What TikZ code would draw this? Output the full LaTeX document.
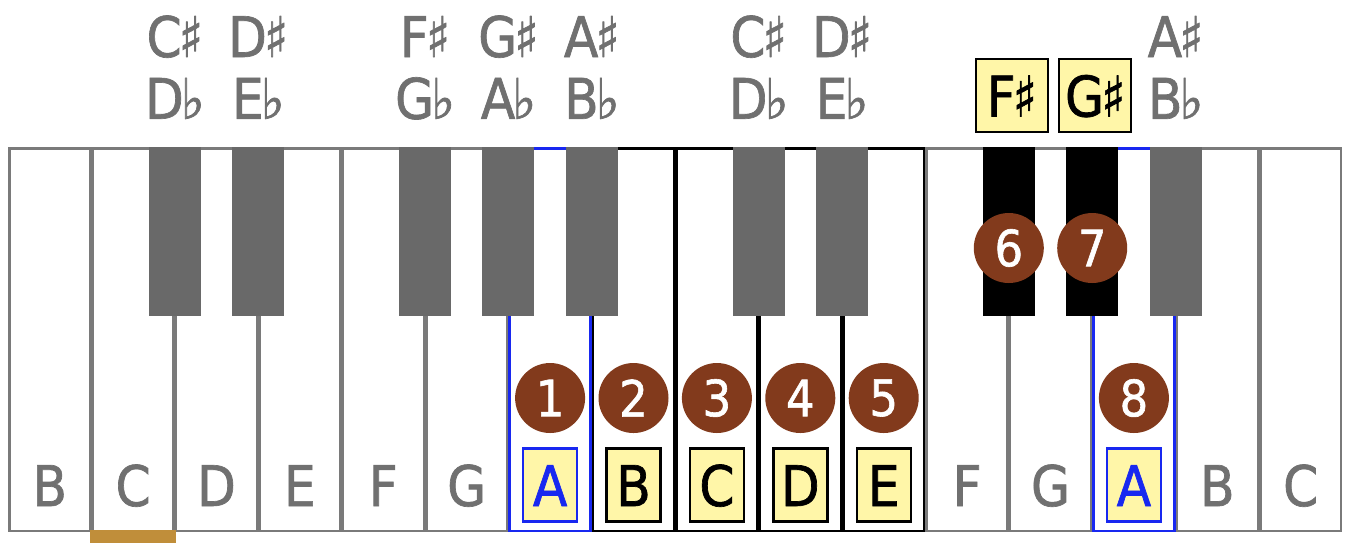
\documentclass[tikz,border=0pt]{standalone}
\usepackage{fontspec}
\setsansfont{DejaVu Sans Condensed}[FakeBold=1.2]
\usetikzlibrary{positioning}

\definecolor{keygrey}{RGB}{105,105,105}
\definecolor{linegrey}{RGB}{122,122,122}
\definecolor{namegrey}{RGB}{112,112,112}
\definecolor{fingerbrown}{RGB}{130,58,28}
\definecolor{noteyellow}{RGB}{255,246,168}
\definecolor{tonicblue}{RGB}{24,40,240}
\definecolor{tonicgold}{RGB}{192,142,58}

\begin{document}
\begin{tikzpicture}[x=0.5pt, y=-0.5pt,
  font=\sffamily\fontsize{28}{30}\selectfont,
  whitekey/.style={fill=white, line width=1.25pt, inner sep=0pt,
    minimum width=40.45pt, minimum height=191.25pt},
  key off/.style={whitekey, draw=linegrey},
  key scale/.style={whitekey, draw=black},
  key tonic/.style={whitekey, draw=tonicblue},
  blackkey/.style={fill=keygrey, inner sep=0pt,
    minimum width=26pt, minimum height=84.5pt},
  letter/.style={inner sep=0pt, text height=21pt, text depth=0pt},
  letterbox/.style={letter, fill=noteyellow, line width=1.2pt,
    minimum width=27pt, minimum height=36.5pt},
  keyname off/.style={letter, text=namegrey},
  keyname scale/.style={letterbox, draw=black, text=black},
  keyname tonic/.style={letterbox, draw=tonicblue, text=tonicblue},
  pitch/.style={letter, text=namegrey},
  pitchbox/.style={letterbox, draw=black, text=black, minimum width=36pt},
  finger/.style={circle, fill=fingerbrown, text=white, inner sep=0pt,
    minimum size=35pt, font=\sffamily\fontsize{25}{25}\selectfont},
  tonicbar/.style={fill=tonicgold, inner sep=0pt,
    minimum width=43pt, minimum height=6.5pt}
]
  \useasboundingbox (0,0) rectangle (1364,548);

  % white keys
  \foreach \note/\kind [count=\i from 0] in {B/off,C/off,D/off,E/off,F/off,G/off,A/tonic,B/scale,C/scale,D/scale,E/scale,F/off,G/off,A/tonic,B/off,C/off} {
    \node[key \kind] (w\i) at ({8+83.4*(\i+0.5)},339.5) {};
    \node[keyname \kind] (n\i) at ({8+83.4*(\i+0.5)},485) {\note};
  }

  % black keys
  \foreach \j/\hi/\lo in {2/C/D,3/D/E,5/F/G,6/G/A,7/A/B,9/C/D,10/D/E,14/A/B} {
    \node[blackkey] (k\j) at ({8+83.4*\j},231.5) {};
    \node[pitch] (s\j) at ({8+83.4*\j},36) {\hi\kern-1.5pt♯};
    \node[pitch, below=9.5pt of s\j] (f\j) {\lo\kern-1.5pt♭};
  }
  \foreach \j/\hi in {12/F,13/G} {
    \node[blackkey, fill=black] (k\j) at ({8+83.4*\j},231.5) {};
    \node[pitchbox] (s\j) at ({11+83.4*\j},95.5) {\hi\kern-1.5pt♯};
  }

  % fingering
  \foreach \n/\k in {1/6,2/7,3/8,4/9,5/10,8/13}
    \node[finger] (d\n) at (w\k.center |- 0,398) {\n};
  \node[finger] (d6) at (k12.center |- 0,248) {6};
  \node[finger] (d7) at (k13.center |- 0,248) {7};

  \node[tonicbar] (bar) at (w1.center |- 0,536.5) {};
\end{tikzpicture}
\end{document}
